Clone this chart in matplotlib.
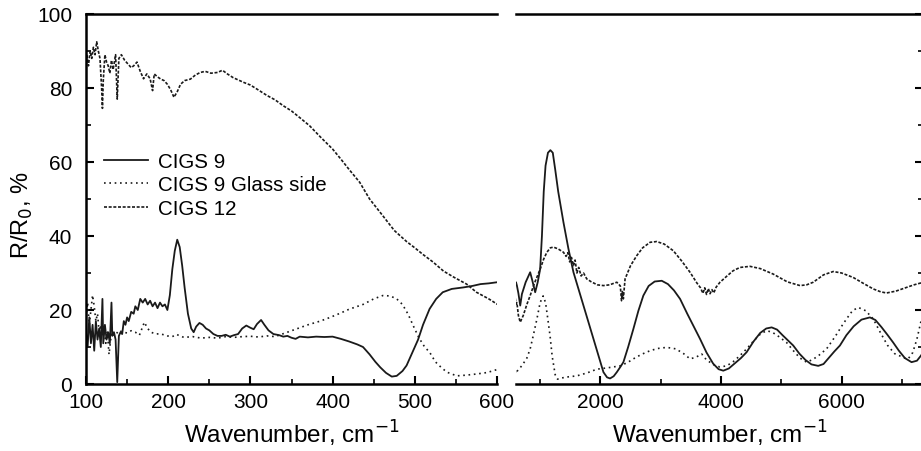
import matplotlib
matplotlib.use("Agg")
import matplotlib.pyplot as plt
from matplotlib.ticker import MultipleLocator

plt.rcParams['font.family'] = ['Liberation Sans', 'DejaVu Sans']

# CIGS 9 (solid)
cigs9_x = [100, 102, 104, 106, 108, 110, 112, 114, 116, 118, 120, 121, 123, 125, 127, 129, 131, 132,
           134, 136, 138, 140, 142, 144, 146, 148, 150, 152, 155, 158, 160, 163, 166, 169, 172, 175,
           178, 181, 184, 187, 190, 193, 196, 199, 202, 205, 208, 211, 214, 217, 220, 224, 228, 231,
           234, 238, 242, 246, 250, 255, 260, 265, 270, 275, 280, 285, 290, 295, 300, 304, 308, 313,
           317, 322, 328, 335, 340, 345, 350, 355, 360, 370, 380, 390, 400, 410, 420, 430, 437, 445,
           452, 458, 465, 472, 478, 485, 490, 497, 504, 510, 518, 526, 534, 545, 559, 570, 580, 590,
           600, 615, 640, 670, 698, 760, 835, 870, 918, 960, 1000, 1030, 1060, 1090, 1130, 1170,
           1210, 1250, 1300, 1387, 1470, 1553, 1640, 1718, 1800, 1884, 1970, 2050, 2110, 2160, 2220,
           2272, 2330, 2381, 2460, 2547, 2630, 2712, 2800, 2900, 3017, 3120, 3220, 3321, 3440, 3550,
           3652, 3760, 3870, 3960, 4038, 4130, 4230, 4330, 4425, 4540, 4650, 4750, 4840, 4930, 5020,
           5110, 5198, 5300, 5400, 5500, 5612, 5700, 5800, 5880, 5972, 6080, 6200, 6330, 6469, 6560,
           6660, 6760, 6856, 6950, 7050, 7160, 7250, 7313, 7350]
cigs9_y = [14, 10, 18, 11, 16, 9, 17, 12, 15, 10, 23, 11, 16, 12, 14, 11, 22, 13,
           14, 12, 0.5, 13, 14, 13.5, 17, 16, 18, 17, 19.5, 19, 21, 20, 23, 22, 23, 21.5,
           22.5, 21, 22, 20.5, 22, 21, 21.5, 20, 24, 31, 36, 39, 37, 32, 26, 19, 15, 14,
           15.5, 16.5, 16, 15, 14.5, 13.5, 13, 13, 13.3, 12.8, 13.2, 13.5, 15, 15.8, 15.2, 14.8, 16.2, 17.3,
           16, 14.5, 13.5, 13.2, 12.8, 13, 12.5, 12.2, 12.8, 12.6, 12.8, 12.7, 12.8, 12.2, 11.5, 10.7, 10, 8,
           6, 4.5, 3, 2, 2.2, 3.5, 5, 8.5, 12, 16, 20.3, 23, 24.8, 25.7, 26.1, 26.5, 27, 27.2,
           27.5, 26.6, 24.5, 21.2, 24.3, 27.5, 30.2, 28, 24.8, 27.5, 31, 40, 52, 59, 62.5, 63.2,
           62.5, 58, 52, 43.7, 36.5, 30.2, 25.5, 21.2, 16.8, 12.2, 7.5, 3.2, 1.8, 1.5, 2.1,
           3.2, 4.6, 5.9, 10, 14.9, 19.8, 23.9, 26.5, 27.7, 27.9, 27, 25.3, 23, 19, 15.5,
           12.2, 8.5, 5.5, 4.0, 3.6, 4.2, 5.6, 7, 8.6, 11.5, 13.8, 15, 15.3, 14.7, 13.2,
           11.8, 10.4, 8.2, 6.5, 5.3, 4.9, 5.4, 7.3, 8.8, 10.4, 13.2, 15.6, 17.4, 18, 17.3,
           15.4, 13.3, 11.2, 9, 7, 5.9, 6.3, 7.6, 8.5]

# CIGS 9 Glass side (dotted)
glass_x = [100, 102, 104, 106, 108, 110, 112, 114, 116, 118, 120, 122, 124, 126, 128, 130, 132, 135,
           140, 145, 150, 155, 160, 165, 171, 175, 179, 185, 190, 199, 205, 210, 219, 230, 240, 250,
           260, 270, 280, 290, 300, 310, 320, 330, 340, 356, 370, 385, 397, 410, 420, 437, 450, 461,
           470, 478, 485, 492, 498, 505, 512, 518, 525, 532, 539, 551, 563, 575, 588, 600,
           615, 700, 780, 835, 885, 946, 1000, 1050, 1090, 1120, 1165, 1200, 1250, 1290, 1350, 1450,
           1609, 1780, 1940, 2130, 2326, 2450, 2547, 2680, 2824, 2950, 3100, 3250, 3380, 3486, 3580,
           3680, 3760, 3880, 3980, 4094, 4200, 4310, 4425, 4550, 4660, 4757, 4850, 4960, 5088, 5200,
           5310, 5420, 5520, 5620, 5751, 5900, 6000, 6082, 6180, 6276, 6400, 6524, 6640, 6760, 6880,
           6966, 7050, 7104, 7180, 7250, 7313, 7350]
glass_y = [18, 22, 16, 20, 24, 21, 17, 19, 14, 16, 13, 15, 11, 14, 8, 12, 14, 13,
           14.5, 14, 13.8, 14.4, 14, 13.2, 16.7, 15, 14, 13.5, 13.6, 13, 12.8, 13.4, 12.6, 12.8, 12.4, 12.6,
           12.4, 12.8, 12.6, 12.8, 12.9, 12.7, 13, 12.8, 13.6, 14.9, 16, 17, 18, 19.2, 20.2, 21.5, 23, 23.9,
           23.8, 23, 21.5, 18.8, 15.8, 12.5, 10, 8.6, 6, 4.5, 3.2, 2.2, 2.4, 2.7, 3.1, 3.9,
           3.4, 5, 7, 9.5, 13, 17.5, 22, 23.8, 22, 18.5, 13, 7.5, 2.5, 1.3, 1.6, 1.9,
           2.2, 3.0, 4, 4.4, 4.9, 5.8, 6.8, 8.0, 9, 9.6, 9.9, 9.5, 8.2, 6.8, 7.2,
           8.1, 6.5, 5.2, 4.6, 4.9, 6, 7.6, 9.5, 11.8, 13.6, 14.4, 14, 12.8, 11.2, 9,
           7, 5.9, 6.6, 7.7, 9.5, 13, 15.6, 17.6, 19.8, 20.7, 19.8, 17.6, 14, 10.5, 8.2,
           7.6, 7, 6.8, 8.5, 12.2, 16.7, 18.5]

# CIGS 12 (dashed)
cigs12_x = [100, 101, 103, 105, 107, 109, 111, 113, 115, 117, 119, 120, 121, 123, 125, 127, 129, 131,
            133, 136, 138, 140, 143, 147, 151, 155, 158, 162, 166, 170, 174, 178, 181, 183, 187, 191,
            195, 199, 203, 207, 211, 215, 220, 227, 233, 239, 245, 252, 260, 266, 272, 279, 285, 292,
            300, 308, 320, 330, 340, 350, 360, 372, 385, 400, 410, 420, 433, 445, 461, 475, 490, 500,
            510, 522, 535, 548, 563, 575, 590, 600,
            615, 640, 670, 720, 780, 835, 900, 950, 1000, 1060, 1112, 1170, 1222, 1300, 1387, 1430,
            1460, 1490, 1520, 1553, 1580, 1610, 1640, 1680, 1720, 1774, 1850, 1950, 2050, 2150, 2272,
            2330, 2350, 2365, 2380, 2409, 2500, 2603, 2700, 2824, 2934, 3060, 3210, 3350, 3486, 3600,
            3660, 3700, 3730, 3760, 3790, 3818, 3850, 3880, 3920, 3983, 4100, 4200, 4314, 4480, 4650,
            4867, 5100, 5310, 5420, 5529, 5700, 5861, 6000, 6192, 6350, 6524, 6650, 6745, 6900, 7077,
            7200, 7313, 7350]
cigs12_y = [84, 89, 86, 90, 88, 91, 89, 92.5, 90, 88, 80, 74.5, 82, 89, 87, 86, 84, 87.5,
            85, 89, 77, 88, 89, 87.5, 86.5, 85.5, 86, 87, 84.5, 82.5, 83.8, 82.5, 79.3, 83.8, 83, 82.4,
            82, 81, 79.5, 77.5, 79, 81, 82, 82.4, 83.5, 84.2, 84.5, 84, 84.2, 84.8, 83.8, 82.8, 82.2, 81.5,
            80.8, 79.7, 78, 76.8, 75.2, 73.8, 72, 69.8, 66.8, 63.5, 60.8, 58, 54.5, 50, 45.5, 41.5, 38.5, 36.8,
            35, 33, 30.5, 28.8, 27, 24.8, 23, 21.6,
            22, 18.5, 16.7, 18.5, 21.5, 23.9, 27, 29, 31, 33.8, 35.6, 36.8, 37, 36.5, 35.6, 34.5,
            35.5, 33, 34.2, 32, 33.5, 30, 31.5, 29.2, 30, 28.4, 27.6, 26.8, 26.6, 26.8, 27.5,
            26.5, 22.5, 25, 23, 28.4, 32, 34.7, 36.8, 38.3, 38.5, 37.8, 36, 33.2, 30.2, 27.3,
            26, 24.5, 26, 24.2, 25.8, 24.4, 25.5, 24.6, 26.2, 27.5, 29.2, 30.6, 31.5, 31.8, 31.2,
            29.7, 27.6, 26.6, 26.8, 27.5, 29.5, 30.4, 30.0, 28.8, 27.3, 25.7, 24.9, 24.6, 25.1, 26.1,
            26.8, 27.3, 27.4]

labels = ["CIGS 9", "CIGS 9 Glass side", "CIGS 12"]
xticks_left = [100, 200, 300, 400, 500, 600]
xticks_right = [2000, 4000, 6000]
yticks = [0, 20, 40, 60, 80, 100]

W, H = 921, 452
fig = plt.figure(figsize=(W / 100, H / 100), dpi=100)
axL = fig.add_axes([86 / W, 1 - 385 / H, 411 / W, 370 / H])
axR = fig.add_axes([516 / W, 1 - 385 / H, 407 / W, 370 / H])

lc = '#1a1a1a'
for ax in (axL, axR):
    ax.plot(cigs9_x, cigs9_y, color=lc, lw=1.3, ls='-', label=labels[0])
    ax.plot(glass_x, glass_y, color=lc, lw=1.2, ls=(0, (1, 2.2)), label=labels[1])
    ax.plot(cigs12_x, cigs12_y, color=lc, lw=1.2, ls=(0, (1.8, 1.0)), label=labels[2])
    ax.set_ylim(0, 100)
    for s in ax.spines.values():
        s.set_linewidth(1.8)
    ax.yaxis.set_major_locator(MultipleLocator(20))
    ax.yaxis.set_minor_locator(MultipleLocator(10))
    ax.tick_params(which='major', direction='in', length=6, width=1.5, labelsize=15)
    ax.tick_params(axis='y', which='major', pad=10)
    ax.tick_params(axis='x', which='major', pad=6)
    ax.tick_params(which='minor', direction='in', length=3.5, width=1.2)
    ax.set_xlabel("Wavenumber, cm$^{-1}$", fontsize=17.5, labelpad=5)

axL.set_xlim(100, 600)
axL.set_xticks(xticks_left)
axL.xaxis.set_minor_locator(MultipleLocator(50))
axL.set_yticks(yticks)
axL.spines['right'].set_visible(False)
axL.tick_params(which='both', top=False, right=False)
axL.set_ylabel("R/R$_0$, %", fontsize=17)
axL.yaxis.set_label_coords(-0.125, 0.46)
axL.legend(loc='upper left', bbox_to_anchor=(0.025, 0.65), frameon=False, fontsize=14.8,
           handlelength=2.1, handletextpad=0.5, labelspacing=0.22, borderaxespad=0)

axR.set_xlim(600, 7350)
axR.set_xticks(xticks_right)
axR.xaxis.set_minor_locator(MultipleLocator(1000))
axR.spines['left'].set_visible(False)
axR.tick_params(which='both', left=False, labelleft=False, right=True, labelright=False, top=False)

fig.savefig("out.png", dpi=100)
